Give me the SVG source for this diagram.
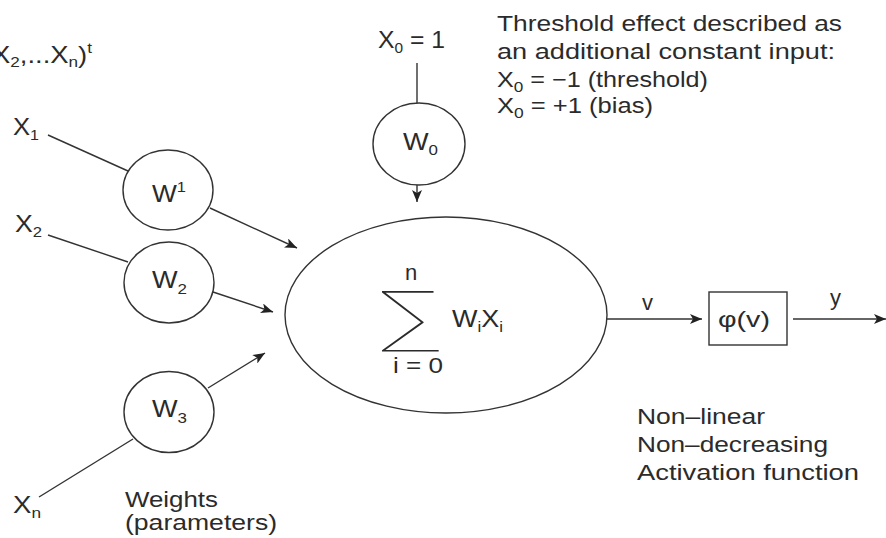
<svg xmlns="http://www.w3.org/2000/svg" width="886" height="538" viewBox="0 0 886 538">
<style>
text{font-family:"Liberation Sans",Arial,sans-serif;font-size:22px;fill:#2b2b2b}
.b{font-size:24px}
.s{font-size:15px}
.ln{stroke:#333;stroke-width:1.4;fill:none}
.nd{stroke:#333;stroke-width:1.4;fill:#fff}
.sig{font-family:Inter,"DejaVu Sans",sans-serif;font-size:70px;font-weight:100}
</style>
<defs>
<marker id="ah" viewBox="0 0 12 10" refX="12" refY="5" markerWidth="12" markerHeight="10" markerUnits="userSpaceOnUse" orient="auto">
<path d="M0,0 L12,5 L0,10 L3,5 z" fill="#222"/>
</marker>
</defs>
<rect width="886" height="538" fill="#fff"/>

<g id="connectors">
<line class="ln" x1="48" y1="135" x2="128" y2="171"/>
<line class="ln" x1="48" y1="235" x2="128" y2="262"/>
<line class="ln" x1="39" y1="497" x2="133" y2="439"/>
<line class="ln" x1="417" y1="63" x2="417" y2="103"/>
<line class="ln" x1="210" y1="208" x2="297" y2="248" marker-end="url(#ah)"/>
<line class="ln" x1="213" y1="292" x2="273" y2="312" marker-end="url(#ah)"/>
<line class="ln" x1="208" y1="388" x2="265" y2="353" marker-end="url(#ah)"/>
<line class="ln" x1="417" y1="185" x2="417" y2="202" marker-end="url(#ah)"/>
<line class="ln" x1="607" y1="319" x2="702" y2="319" marker-end="url(#ah)"/>
<line class="ln" x1="793" y1="319" x2="886" y2="319" marker-end="url(#ah)"/>
</g>

<g id="inputs">
<text class="b" x="-8" y="63" textLength="100" lengthAdjust="spacingAndGlyphs">X<tspan class="s" dy="4">2</tspan><tspan dy="-4">,...X</tspan><tspan class="s" dy="4">n</tspan><tspan dy="-4">)</tspan><tspan class="s" dy="-10">t</tspan></text>
<text class="b" x="13" y="135" textLength="26" lengthAdjust="spacingAndGlyphs">X<tspan class="s" dy="5">1</tspan></text>
<text class="b" x="15" y="232" textLength="27" lengthAdjust="spacingAndGlyphs">X<tspan class="s" dy="5">2</tspan></text>
<text class="b" x="13" y="513" textLength="28" lengthAdjust="spacingAndGlyphs">X<tspan class="s" dy="5">n</tspan></text>
<text class="b" x="378" y="48" textLength="67" lengthAdjust="spacingAndGlyphs">X<tspan class="s" dy="5">0</tspan><tspan dy="-5"> = 1</tspan></text>
</g>

<g id="w1">
<ellipse class="nd" cx="168" cy="190" rx="45" ry="40"/>
<text class="b" x="152" y="202" textLength="34" lengthAdjust="spacingAndGlyphs">W<tspan class="s" dy="-10">1</tspan></text>
</g>
<g id="w2">
<ellipse class="nd" cx="169" cy="282.5" rx="45" ry="40.5"/>
<text class="b" x="152" y="288" textLength="35" lengthAdjust="spacingAndGlyphs">W<tspan class="s" dy="6">2</tspan></text>
</g>
<g id="w3">
<ellipse class="nd" cx="169" cy="412" rx="45" ry="40.5"/>
<text class="b" x="152" y="417" textLength="35" lengthAdjust="spacingAndGlyphs">W<tspan class="s" dy="6">3</tspan></text>
</g>
<g id="w0">
<ellipse class="nd" cx="419" cy="144" rx="46" ry="41"/>
<text class="b" x="403" y="150" textLength="35" lengthAdjust="spacingAndGlyphs">W<tspan class="s" dy="5">0</tspan></text>
</g>

<g id="sum">
<ellipse class="nd" cx="446" cy="315" rx="161" ry="98"/>
<text x="405" y="280">n</text>
<text class="sig" x="385" y="342" textLength="54" lengthAdjust="spacingAndGlyphs">∑</text>
<text x="393" y="373" textLength="50" lengthAdjust="spacingAndGlyphs">i = 0</text>
<text class="b" x="452" y="327" textLength="51" lengthAdjust="spacingAndGlyphs">W<tspan class="s" dy="5">i</tspan><tspan dy="-5">X</tspan><tspan class="s" dy="5">i</tspan></text>
</g>

<g id="activation">
<rect class="nd" x="709" y="292" width="78" height="53"/>
<text x="718" y="327" textLength="52" lengthAdjust="spacingAndGlyphs">φ(v)</text>
</g>

<g id="labels">
<text x="642" y="310">v</text>
<text x="830" y="305">y</text>
<text x="497" y="31" textLength="345" lengthAdjust="spacingAndGlyphs">Threshold effect described as</text>
<text x="497" y="59" textLength="338" lengthAdjust="spacingAndGlyphs">an additional constant input:</text>
<text x="497" y="87" textLength="211" lengthAdjust="spacingAndGlyphs">X<tspan class="s" dy="5">0</tspan><tspan dy="-5"> = −1 (threshold)</tspan></text>
<text x="497" y="113" textLength="156" lengthAdjust="spacingAndGlyphs">X<tspan class="s" dy="5">0</tspan><tspan dy="-5"> = +1 (bias)</tspan></text>
<text x="637" y="424" textLength="128" lengthAdjust="spacingAndGlyphs">Non–linear</text>
<text x="637" y="452" textLength="191" lengthAdjust="spacingAndGlyphs">Non–decreasing</text>
<text x="637" y="480" textLength="222" lengthAdjust="spacingAndGlyphs">Activation function</text>
<text x="125" y="507" textLength="93" lengthAdjust="spacingAndGlyphs">Weights</text>
<text x="125" y="530" textLength="152" lengthAdjust="spacingAndGlyphs">(parameters)</text>
</g>
</svg>
